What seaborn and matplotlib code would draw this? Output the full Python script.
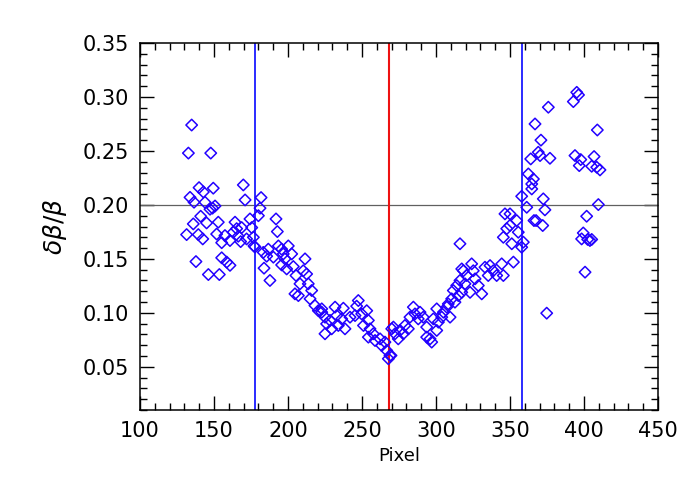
import matplotlib
matplotlib.use("Agg")
import matplotlib.pyplot as plt
import seaborn as sns
import pandas as pd
from matplotlib.ticker import MultipleLocator

# values
pixel = [
    134.9, 132.7, 147.8, 169.8, 171.0, 139.9, 142.8, 149.5, 133.8, 136.5,
    143.9, 147.3, 150.7, 149.0, 141.0, 136.0, 145.0, 152.9, 131.5, 139.4,
    142.4, 151.8, 155.2, 157.4, 160.8, 164.2, 165.3, 168.7, 163.0, 166.4,
    168.0, 172.0, 174.3, 175.5, 177.0, 137.8, 155.2, 158.6, 160.8, 146.2,
    153.6,
    181.8, 181.1, 180.0, 176.6, 191.9, 192.8, 177.7, 183.3, 186.7, 185.6,
    190.1, 193.5, 195.7, 200.2, 202.5, 196.8, 198.0, 195.7, 199.1, 203.6,
    211.5, 183.8, 187.8, 205.4, 210.3, 212.6, 208.1, 213.7, 216.0, 204.7,
    207.0, 214.9, 218.2, 220.5, 222.8,
    222.8, 225.0, 228.4, 231.8, 237.4, 232.9, 226.1, 225.0, 229.5, 234.0,
    236.3, 238.5, 241.9, 245.3, 247.5, 246.4, 249.8, 253.2, 251.0, 254.3,
    255.4, 254.3, 257.6, 258.8, 262.2, 263.3, 265.5, 266.7, 268.9, 267.8,
    270.1,
    269.6, 271.2, 272.3, 275.7, 274.5, 279.0, 281.3, 277.9, 284.7, 282.4,
    285.8, 289.2, 288.0, 291.4, 293.7, 293.7, 296.0, 297.1, 298.2, 300.5,
    300.5, 301.6, 305.0, 307.3, 303.9, 309.5, 308.3, 310.6, 312.8, 311.7,
    314.0, 315.1, 316.2, 317.4, 316.2,
    318.5, 320.7, 319.6, 317.4, 323.0, 324.1, 325.2, 326.4, 328.6, 330.9,
    333.1, 336.5, 335.3, 338.7, 341.0, 344.4, 345.5, 352.3, 345.5, 347.8,
    350.0, 346.6, 350.0, 351.2, 354.5, 355.6, 359.0, 357.9, 357.9, 361.3,
    362.4, 364.7, 364.7, 364.0, 366.2,
    375.9, 366.9, 370.9, 369.1, 370.3, 377.0, 365.8, 372.5, 373.6, 367.6,
    372.1, 374.8, 395.1, 396.3, 392.8, 409.0, 393.9, 397.8, 396.8, 406.8,
    405.2, 408.6, 410.8, 409.7, 401.8, 399.5, 398.4, 402.5, 404.0, 405.2,
    400.7,
]
dbeta = [
    0.274, 0.248, 0.248, 0.2185, 0.2046, 0.216, 0.212, 0.2155, 0.207, 0.2025,
    0.2025, 0.196, 0.199, 0.197, 0.1895, 0.1824, 0.1833, 0.184, 0.1725, 0.1725,
    0.1685, 0.173, 0.165, 0.1716, 0.167, 0.184, 0.178, 0.179, 0.1747, 0.171,
    0.166, 0.1685, 0.187, 0.179, 0.162, 0.1475, 0.151, 0.147, 0.144, 0.1355,
    0.1355,
    0.2068, 0.197, 0.190, 0.170, 0.187, 0.1753, 0.161, 0.156, 0.159, 0.1525,
    0.1516, 0.162, 0.159, 0.162, 0.1546, 0.1546, 0.150, 0.1444, 0.1407, 0.1429,
    0.150, 0.1414, 0.130, 0.1346, 0.139, 0.136, 0.1269, 0.1269, 0.1207, 0.1176,
    0.116, 0.113, 0.1068, 0.102, 0.1006,
    0.1037, 0.096, 0.093, 0.1053, 0.1043, 0.0975, 0.0898, 0.0806, 0.0852, 0.0883,
    0.0944, 0.0852, 0.096, 0.0975, 0.1114, 0.1062, 0.099, 0.102, 0.0883, 0.093,
    0.0852, 0.0775, 0.0806, 0.0744, 0.0759, 0.0697, 0.0729, 0.0651, 0.0605, 0.0575,
    0.0852,
    0.0605, 0.0868, 0.0806, 0.0837, 0.0759, 0.0883, 0.0852, 0.0806, 0.1053, 0.096,
    0.099, 0.1006, 0.0944, 0.096, 0.0868, 0.0775, 0.0759, 0.0729, 0.0944, 0.1037,
    0.0837, 0.0914, 0.1006, 0.1053, 0.096, 0.096, 0.1083, 0.113, 0.1099, 0.1207,
    0.1253, 0.116, 0.130, 0.1407, 0.164,
    0.139, 0.1346, 0.1269, 0.119, 0.119, 0.1454, 0.139, 0.1315, 0.1253, 0.1176,
    0.1423, 0.1438, 0.1346, 0.139, 0.1346, 0.1454, 0.1346, 0.147, 0.170, 0.178,
    0.181, 0.1917, 0.1917, 0.164, 0.1855, 0.1747, 0.1655, 0.1608, 0.208, 0.1978,
    0.2287, 0.2194, 0.2148, 0.2426, 0.1855,
    0.2905, 0.275, 0.260, 0.2488, 0.2457, 0.2432, 0.224, 0.2056, 0.1954, 0.1855,
    0.1809, 0.0997, 0.3043, 0.3019, 0.2957, 0.2694, 0.2457, 0.242, 0.2364, 0.2448,
    0.2358, 0.2349, 0.2324, 0.2003, 0.1895, 0.174, 0.1685, 0.168, 0.167, 0.168,
    0.1377,
]

blue_lines = [178, 358]
red_line = 268
threshold = 0.20

df = pd.DataFrame({"Pixel": pixel, "dbeta": dbeta})

sns.set_style("ticks")
plt.rcParams["text.color"] = "black"
plt.rcParams["axes.labelcolor"] = "black"
plt.rcParams["xtick.color"] = "black"
plt.rcParams["ytick.color"] = "black"

fig = plt.figure(figsize=(7, 5), dpi=100)
ax = fig.add_axes([0.2, 0.18, 0.74, 0.734])

ax.axhline(threshold, color="#606060", lw=0.9, zorder=1)
for xv in blue_lines:
    ax.axvline(xv, color="#1a1aff", lw=1.3, zorder=1)
ax.axvline(red_line, color="#ee1111", lw=1.5, zorder=1)

sns.scatterplot(data=df, x="Pixel", y="dbeta", ax=ax, marker="D", s=34,
                facecolors="none", edgecolor="#2200ff", linewidth=1.1, zorder=3)

ax.set_xlim(100, 450)
ax.set_ylim(0.01, 0.35)
ax.xaxis.set_major_locator(MultipleLocator(50))
ax.xaxis.set_minor_locator(MultipleLocator(10))
ax.yaxis.set_minor_locator(MultipleLocator(0.01))
ax.set_yticks([0.05, 0.10, 0.15, 0.20, 0.25, 0.30, 0.35])
ax.set_yticklabels(["0.05", "0.10", "0.15", "0.20", "0.25", "0.30", "0.35"])
ax.tick_params(which="both", direction="in", top=True, right=True)
ax.tick_params(which="major", length=10, width=1, labelsize=15, pad=8)
ax.tick_params(which="minor", length=5, width=1)
for sp in ax.spines.values():
    sp.set_linewidth(1.1)
    sp.set_color("black")

ax.set_xlabel("Pixel", fontsize=13, labelpad=4)
ax.set_ylabel(r"$\delta\beta/\beta$", fontsize=18, labelpad=10)

fig.savefig("out.png", dpi=100)
